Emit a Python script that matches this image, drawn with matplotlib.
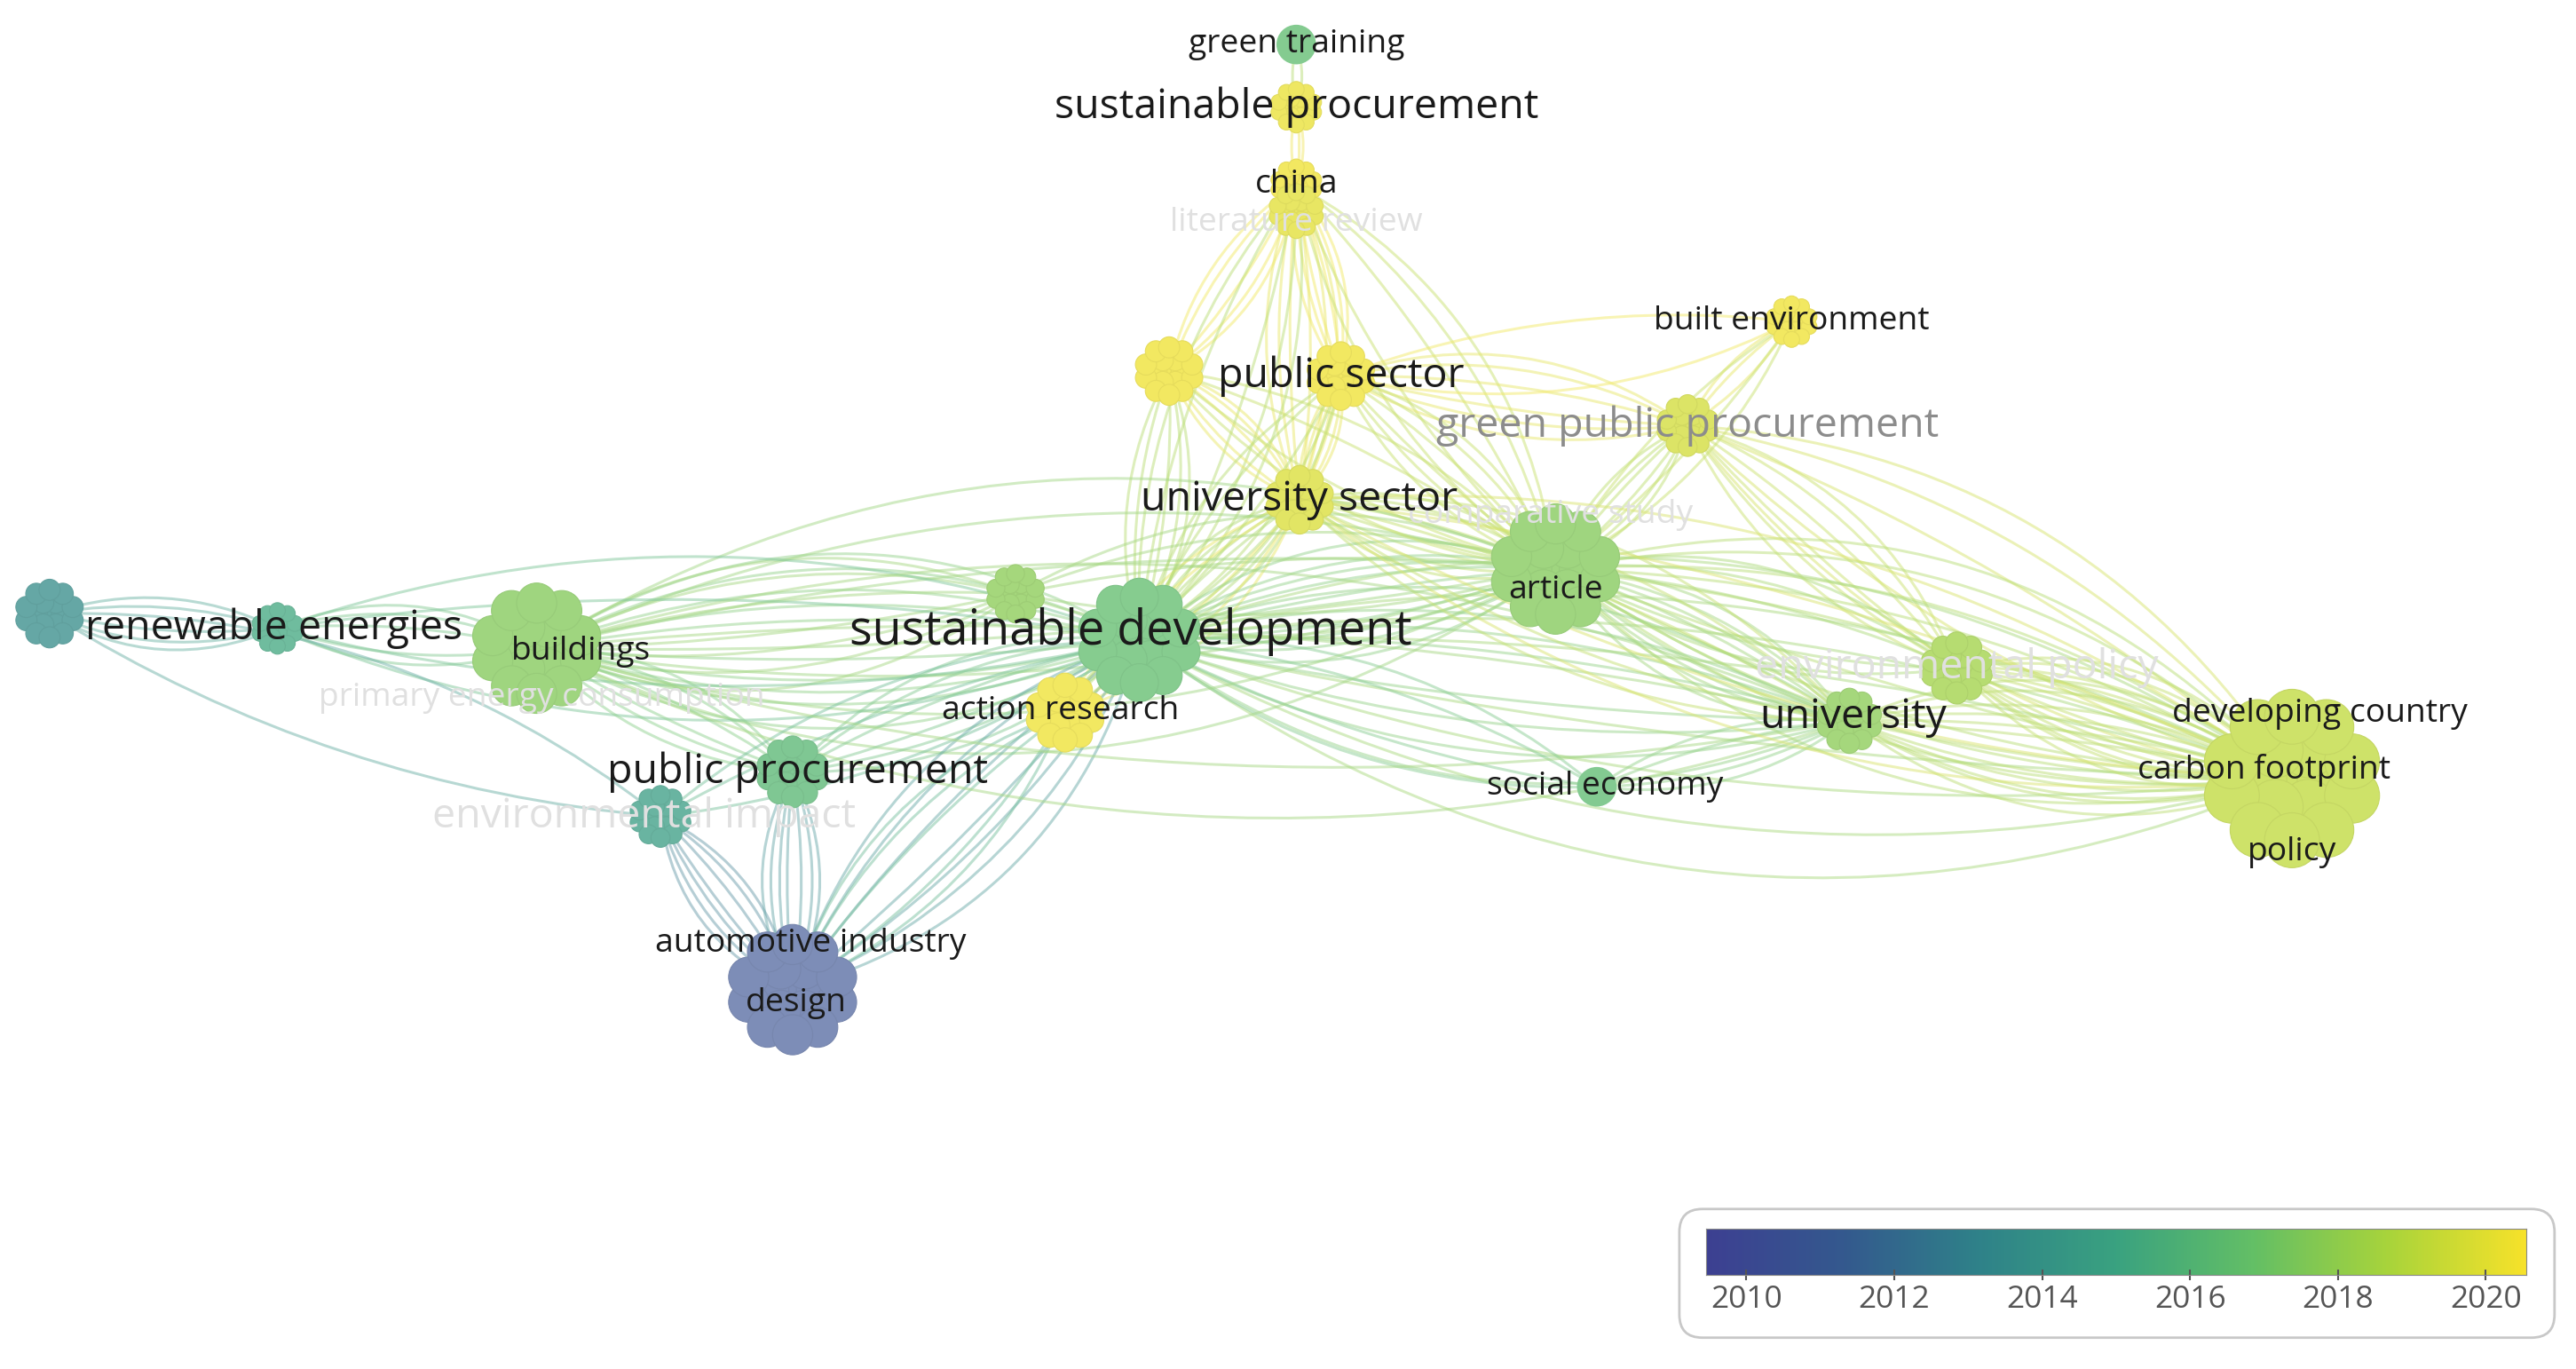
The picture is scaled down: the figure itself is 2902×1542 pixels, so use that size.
import numpy as np
import matplotlib.pyplot as plt
from matplotlib.path import Path
from matplotlib.patches import PathPatch, Circle, FancyBboxPatch
import matplotlib.colors as mcolors

plt.rcParams['font.family'] = ['Open Sans', 'DejaVu Sans']

# node data (positions in reference pixel coordinates)
labels = ['green training', 'sustainable procurement', 'china', 'literature review',
          'public sector', '', 'green public procurement', 'built environment',
          'university sector', 'article', 'comparative study', 'sustainable development', '',
          'action research', 'renewable energies', '', 'buildings', 'primary energy consumption',
          'public procurement', 'environmental impact', 'design', 'automotive industry',
          'social economy', 'university', 'environmental policy', 'carbon footprint',
          'developing country', 'policy']
node_x = [785, 785, 785, 785, 812, 708, 1022, 1085, 787, 942, 942, 690, 615,
          645, 168, 30, 325, 330, 480, 400, 480, 480, 967, 1120, 1185, 1388, 1388, 1388]
node_y = [27, 65, 112, 128, 228, 225, 258, 195, 303, 345, 320, 388, 360,
          432, 381, 372, 393, 423, 468, 495, 600, 575, 477, 437, 405, 472, 440, 510]
node_r = [12, 15, 15, 16, 20, 20, 18, 15, 20, 38, 0, 36, 17,
          23, 15, 20, 38, 0, 21, 18, 38, 0, 12, 19, 21, 52, 0, 0]
node_year = [2016.5, 2020.2, 2020.3, 2020.0, 2020.3, 2020.3, 2019.6, 2020.3, 2019.8, 2017.6, 2017.6,
             2016.6, 2017.8, 2020.3, 2015.2, 2013.6, 2017.6, 2017.0, 2016.2, 2014.6, 2010.6, 2010.6,
             2016.4, 2017.8, 2018.4, 2019.2, 2019.2, 2019.2]
label_px = [20, 25, 20, 20, 25, 0, 25, 20, 25, 20, 20, 29, 0,
            20, 25, 0, 20, 20, 25, 25, 20, 20, 20, 25, 25, 20, 20, 20]
label_faded = [0, 0, 0, 2, 0, 0, 1, 0, 0, 0, 2, 0, 0,
               0, 0, 0, 0, 2, 0, 2, 0, 0, 0, 0, 2, 0, 0, 0]
label_dy = [0, 0, 0, 7, 0, 0, 0, 0, 0, 13, -8, -5, 0,
            -1, 0, 0, 2, 0, 0, 0, 8, -3, 0, -2, 0, -5, -7, 7]
label_dx = [0, 0, 0, 0, 0, 0, 0, 0, 0, 0, -3, -5, 0,
            -3, -2, 0, 27, -2, 3, -10, 2, 11, 5, 2, 0, -17, 17, 0]

# edges: (from, to, number of strands)
edges = [(0, 1, 2), (1, 2, 3), (2, 4, 6), (2, 5, 5), (2, 8, 6), (2, 9, 5), (2, 11, 5),
         (4, 8, 6), (5, 8, 5), (4, 6, 6), (6, 7, 3), (6, 9, 6), (6, 24, 6), (6, 25, 5),
         (8, 9, 7), (8, 11, 7), (8, 13, 5), (4, 11, 5), (5, 11, 5), (9, 11, 9), (9, 23, 9),
         (9, 25, 10), (11, 23, 8), (11, 25, 8), (23, 25, 12), (24, 25, 12), (22, 23, 4),
         (22, 11, 4), (16, 11, 10), (16, 12, 7), (16, 9, 7), (14, 15, 5), (14, 16, 5),
         (14, 11, 4), (15, 19, 2), (16, 18, 6), (18, 11, 6), (19, 20, 7), (18, 20, 7),
         (20, 11, 7), (20, 13, 5), (19, 11, 3), (13, 11, 3), (12, 9, 5), (4, 9, 6),
         (7, 9, 3), (7, 4, 2), (5, 9, 4), (8, 23, 5), (9, 24, 5), (16, 23, 4), (8, 25, 4)]

vmin, vmax = 2009.45, 2020.55
cmap = mcolors.LinearSegmentedColormap.from_list(
    'vos', ['#3d4092', '#34598e', '#2f8289', '#3aa280', '#63bf66', '#a9d43b', '#f7e22a'])
norm = mcolors.Normalize(vmin, vmax)


def node_color(year, light=0.25):
    c = np.array(cmap(norm(year))[:3])
    if year < 2012:
        light = 0.35
    return tuple(c + (1 - c) * light)


W, H = 1560, 830
fig = plt.figure(figsize=(29.02, 15.42), dpi=100)
ax = fig.add_axes([0, 0, 1, 1])
ax.set_xlim(0, W)
ax.set_ylim(H, 0)
ax.axis('off')

bends = [-0.18, 0.12, -0.08, 0.2, -0.25, 0.05, 0.28, -0.13, 0.16, -0.3, 0.22, -0.04]
for a, b, n in edges:
    x0, y0, x1, y1 = node_x[a], node_y[a], node_x[b], node_y[b]
    col = node_color((node_year[a] + node_year[b]) / 2, 0.3)
    dx, dy = x1 - x0, y1 - y0
    for k in range(n):
        t = bends[k % len(bends)]
        cx = (x0 + x1) / 2 - dy * t
        cy = (y0 + y1) / 2 + dx * t
        p = Path([(x0, y0), (cx, cy), (x1, y1)], [Path.MOVETO, Path.CURVE3, Path.CURVE3])
        ax.add_patch(PathPatch(p, fc='none', ec=col, lw=2.2, alpha=0.5, zorder=1))

# sub-circle offsets (fraction of node radius) for the clustered look
offs = [(0, 0), (0.38, 0), (-0.38, 0), (0.19, 0.33), (-0.19, 0.33), (0.19, -0.33), (-0.19, -0.33),
        (0.7, 0.2), (-0.7, 0.2), (0.7, -0.2), (-0.7, -0.2), (0.4, 0.6), (-0.4, 0.6),
        (0.4, -0.6), (-0.4, -0.6), (0, 0.72), (0, -0.72)]
for i in range(len(labels)):
    r = node_r[i]
    if r == 0:
        continue
    c = node_color(node_year[i])
    dark = tuple(np.array(c) * 0.95)
    if r > 14:
        sr = r * 0.32
        for ox, oy in offs:
            ax.add_patch(Circle((node_x[i] + ox * r, node_y[i] + oy * r), sr,
                                fc=c, ec=dark, lw=0.8, zorder=3))
    else:
        ax.add_patch(Circle((node_x[i], node_y[i]), r, fc=c, ec='none', zorder=2))

fs = 1.86 * 0.72
for i, lab in enumerate(labels):
    if not lab:
        continue
    col = ['#1a1a1a', '#8c8c8c', '#e0e0e0'][label_faded[i]]
    ax.text(node_x[i] + label_dx[i], node_y[i] + label_dy[i], lab, fontsize=label_px[i] * fs,
            color=col, ha='center', va='center', zorder=5 if label_faded[i] != 2 else 4)

# colorbar box
ax.add_patch(FancyBboxPatch((1017, 733), 530, 78, boxstyle='round,pad=0,rounding_size=14',
                            fc='white', ec='#c8c8c8', lw=2, zorder=6))
cax = fig.add_axes([1033 / W, 1 - 773 / H, (1530 - 1033) / W, 28 / H], zorder=7)
grad = np.linspace(vmin, vmax, 256).reshape(1, -1)
cax.imshow(grad, aspect='auto', cmap=cmap, norm=norm, extent=[vmin, vmax, 0, 1])
cax.set_yticks([])
cax.set_xticks([2010, 2012, 2014, 2016, 2018, 2020])
cax.tick_params(axis='x', labelsize=19 * fs, colors='#555555', length=8, width=1.5,
                direction='inout')
for s in cax.spines.values():
    s.set_color('#888888')

fig.savefig('out.png', dpi=100, facecolor='white')
